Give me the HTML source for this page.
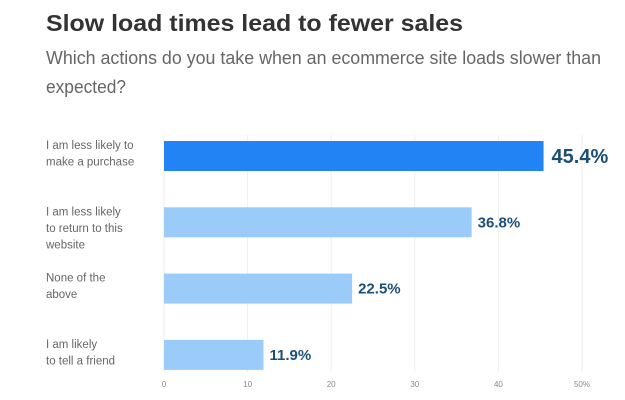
<!DOCTYPE html>
<html><head><meta charset="utf-8"><style>
html,body{margin:0;padding:0;background:#fff;}
svg{display:block;font-family:"Liberation Sans",sans-serif;}
</style></head><body>
<svg id="chart" width="625" height="400" viewBox="0 0 625 400">
<text x="46" y="31" font-size="23" font-weight="bold" fill="#333" textLength="417" lengthAdjust="spacingAndGlyphs">Slow load times lead to fewer sales</text>
<text x="46" y="64" font-size="18" fill="#666" textLength="555" lengthAdjust="spacingAndGlyphs">Which actions do you take when an ecommerce site loads slower than</text>
<text x="46" y="93" font-size="18" fill="#666" textLength="80" lengthAdjust="spacingAndGlyphs">expected?</text>
<g id="grid"></g><g id="bars"></g><g id="labels"></g><g id="ticks"></g>
</svg>
<script>
const categories=[["I am less likely to","make a purchase"],["I am less likely","to return to this","website"],["None of the","above"],["I am likely","to tell a friend"]];
const values=[45.4,36.8,22.5,11.9];
const valueLabels=["45.4%","36.8%","22.5%","11.9%"];
const tickValues=[0,10,20,30,40,50];
const tickLabels=["0","10","20","30","40","50%"];
const NS="http://www.w3.org/2000/svg";
const x0=164,xScale=8.36;
function xPos(v){return x0+v*xScale;}
const bandTop=141,bandStep=66.3,barH=30;
function yPos(i){return bandTop+i*bandStep;}
function mk(t,a,p){const e=document.createElementNS(NS,t);for(const k in a)e.setAttribute(k,a[k]);p.appendChild(e);return e;}
const grid=document.getElementById('grid'),bars=document.getElementById('bars'),labels=document.getElementById('labels'),ticks=document.getElementById('ticks');
tickValues.forEach((v,i)=>{
 const l=mk('line',{x1:xPos(v),x2:xPos(v),y1:135,y2:372,stroke:'#eee','stroke-width':1},grid);
 
 
 const t=mk('text',{x:xPos(v),y:387,'font-size':8,fill:'#888','text-anchor':'middle'},ticks);
 t.textContent=tickLabels[i];
 
 
});
values.forEach((v,i)=>{
 const y=yPos(i);
 const r=mk('rect',{x:x0,y:y,width:xPos(v)-x0,height:barH,fill:i===0?'#2183f4':'#9acbf9'},bars);
 
 
 const big=i===0;
 const vl=mk('text',{x:xPos(v)+(big?8:6),y:y+barH/2+(big?7:5),'font-size':big?20:15,'font-weight':'bold',fill:'#1d4f75'},labels);
 vl.textContent=valueLabels[i];
 
 
 const lines=categories[i];
 lines.forEach((s,j)=>{
  const t=mk('text',{x:46,y:y+8+j*16.5,'font-size':11.5,fill:'#666'},labels);
  t.textContent=s;
  
  
 });
});
</script>
</body></html>
